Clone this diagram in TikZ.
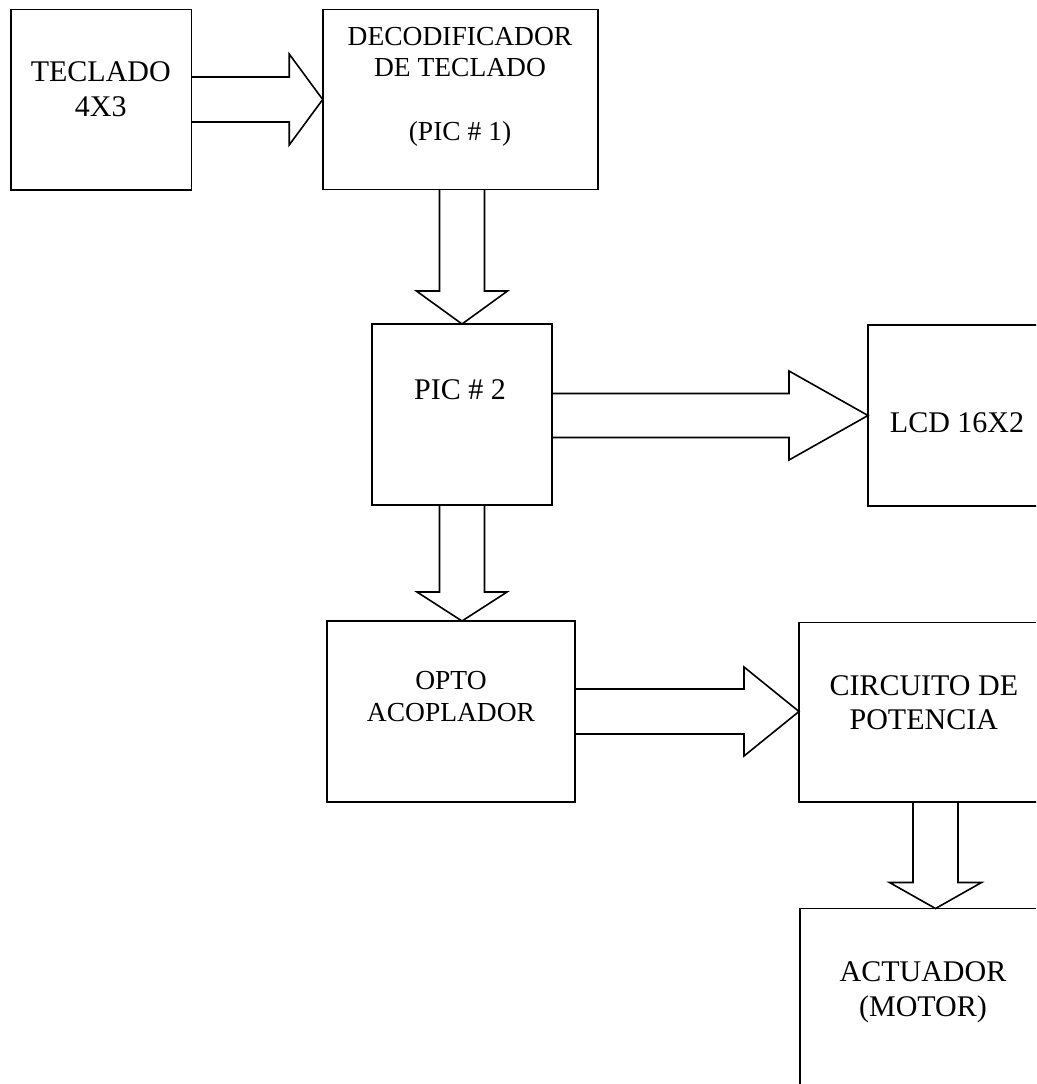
\documentclass[tikz,border=0pt]{standalone}
\usepackage{fontspec}
\setmainfont{Liberation Serif}
\usetikzlibrary{calc}
\tikzset{
  box/.style={draw=black, line width=1.6pt, rectangle, inner sep=0pt, outer sep=0pt},
  blk/.style={draw=black, line width=1.6pt, line join=miter},
  txt/.style={font=\fontsize{30}{35}\selectfont, inner sep=0pt, anchor=base},
  stxt/.style={font=\fontsize{27.5}{32}\selectfont, inner sep=0pt, anchor=base}
}
\newcommand{\rblock}[5]{%
  \draw[blk] ($(#1)+(0,-#3)$) -- ($(#2)+(-#5,-#3)$) -- ($(#2)+(-#5,-#4)$) -- (#2)
    -- ($(#2)+(-#5,#4)$) -- ($(#2)+(-#5,#3)$) -- ($(#1)+(0,#3)$);}
\newcommand{\dblock}[5]{%
  \draw[blk] ($(#1)+(-#3,0)$) -- ($(#2)+(-#3,-#5)$) -- ($(#2)+(-#4,-#5)$) -- (#2)
    -- ($(#2)+(#4,-#5)$) -- ($(#2)+(#3,-#5)$) -- ($(#1)+(#3,0)$);}
\begin{document}
\begin{tikzpicture}[x=1pt,y=-1pt]
\useasboundingbox (0,0) rectangle (1036,1084);
\fill[white] (0,0) rectangle (1036,1084);
\clip (0,0) rectangle (1036,1084);

% boxes
\node[box, minimum width=180.5pt, minimum height=180.5pt] (teclado) at (101.25,99.75) {};
\node[box, minimum width=275pt, minimum height=180pt] (decod) at (460.2,99.5) {};
\node[box, minimum width=180pt, minimum height=181pt] (pic2) at (462,414.5) {};
\node[box, minimum width=178pt, minimum height=181pt] (lcd) at (957,415.5) {};
\node[box, minimum width=248pt, minimum height=181pt] (opto) at (451,711.5) {};
\node[box, minimum width=248pt, minimum height=179.5pt] (circ) at (923,712.25) {};
\node[box, minimum width=248pt, minimum height=181pt] (act) at (924,999) {};

% texts
\node[txt] (t1a) at (100.8,81.7) {TECLADO};
\node[txt] (t1b) at (100.8,116.7) {4X3};
\node[stxt] (t2a) at (460,45.7) {DECODIFICADOR};
\node[stxt] (t2b) at (460,76) {DE TECLADO};
\node[stxt] (t2c) at (460,140) {(PIC \# 1)};
\node[txt] (t3) at (460,399) {PIC \# 2};
\node[txt] (t4) at (957,432.3) {LCD 16X2};
\node[stxt] (t5a) at (451,689) {OPTO};
\node[stxt] (t5b) at (451,721) {ACOPLADOR};
\node[txt] (t6a) at (923.8,695) {CIRCUITO DE};
\node[txt] (t6b) at (923.8,729.3) {POTENCIA};
\node[txt] (t7a) at (923,981) {ACTUADOR};
\node[txt] (t7b) at (923,1016) {(MOTOR)};

% arrow anchor coordinates
\coordinate (r1s) at (teclado.east |- decod.west);
\coordinate (r1t) at (decod.west);
\coordinate (d1s) at (pic2.north |- decod.south);
\coordinate (d1t) at (pic2.north);
\coordinate (r2s) at (pic2.east |- lcd.west);
\coordinate (r2t) at (lcd.west);
\coordinate (d2s) at (pic2.south);
\coordinate (d2t) at (pic2.south |- opto.north);
\coordinate (r3s) at (opto.east);
\coordinate (r3t) at (opto.east -| circ.west);
\coordinate (d3s) at ([xshift=12.5pt]circ.south);
\coordinate (d3t) at (d3s |- act.north);

% block arrows
\rblock{r1s}{r1t}{22.5}{45.5}{33.5}
\dblock{d1s}{d1t}{22.5}{45.5}{33}
\rblock{r2s}{r2t}{22}{44.5}{79}
\dblock{d2s}{d2t}{22.5}{45}{29}
\rblock{r3s}{r3t}{22.5}{44.5}{55}
\dblock{d3s}{d3t}{22.5}{46}{26}
\end{tikzpicture}
\end{document}
